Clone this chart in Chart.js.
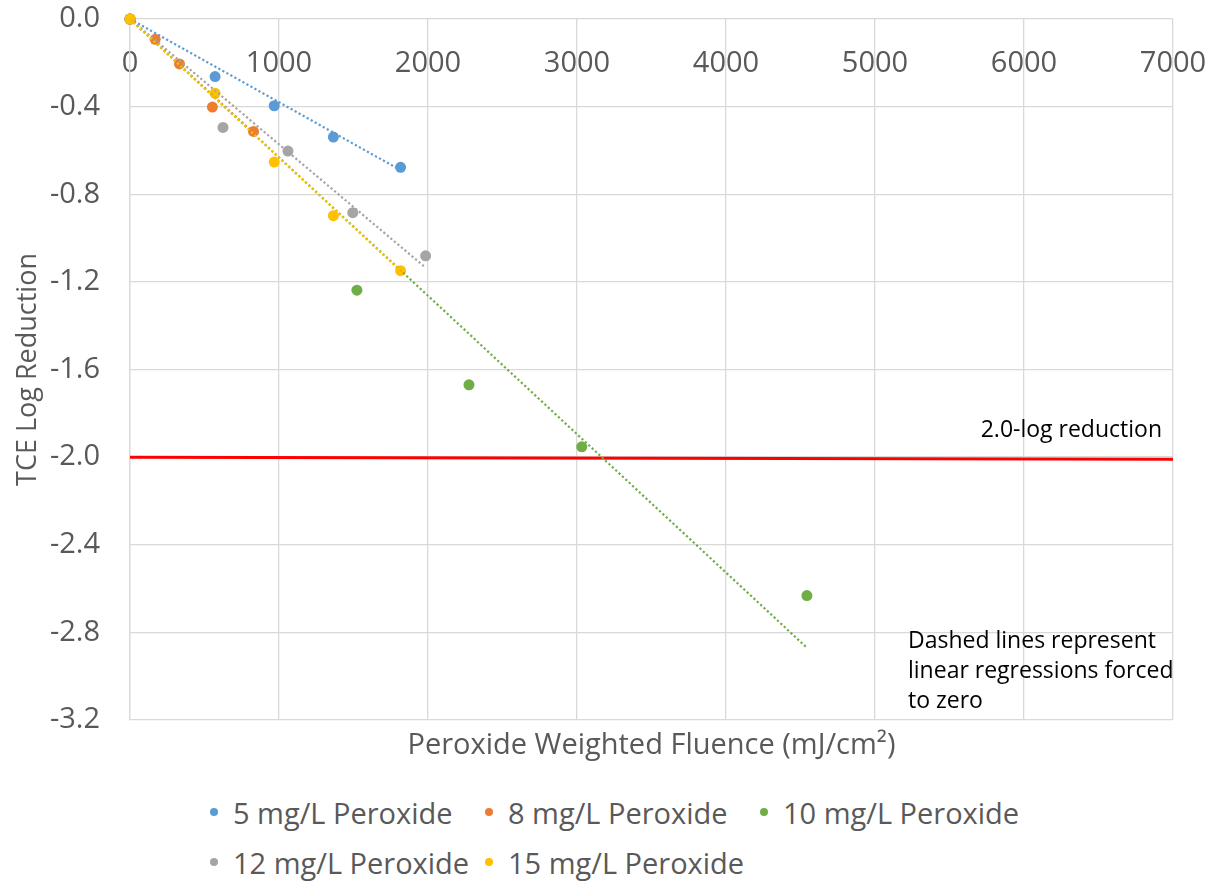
<!DOCTYPE html>
<html lang="en">
<head>
    <meta charset="UTF-8">
    <title>TCE Log Reduction vs Peroxide Weighted Fluence</title>
    <script src="https://cdn.jsdelivr.net/npm/chart.js"></script>
    <style>
        body {
            margin: 0;
            background: #fff;
            font-family: "Open Sans", Arial, sans-serif;
        }
        .chart-container {
            position: relative;
            width: 1220px;
            height: 781px;
        }
        #legend {
            position: relative;
            width: 1220px;
            height: 100px;
            padding-top: 6px;
            box-sizing: border-box;
        }
        .legend-row {
            height: 50px;
            display: flex;
            align-items: center;
            padding-left: 210px;
        }
        .legend-item {
            width: 275px;
            display: flex;
            align-items: center;
            color: #595959;
            font-size: 29px;
            white-space: nowrap;
        }
        .legend-dot {
            width: 8px;
            height: 8px;
            border-radius: 50%;
            margin-right: 15px;
            flex: none;
        }
    </style>
</head>
<body>
    <div class="chart-container">
        <canvas id="tceChart"></canvas>
    </div>
    <div id="legend"></div>

    <script>
        // values
        const seriesNames = ['5 mg/L Peroxide', '8 mg/L Peroxide', '10 mg/L Peroxide', '12 mg/L Peroxide', '15 mg/L Peroxide'];
        const seriesColors = ['#5B9BD5', '#ED7D31', '#70AD47', '#A5A5A5', '#FFC000'];

        const fluence5 = [0, 571, 968, 1365, 1816];
        const logRed5 = [0, -0.263, -0.396, -0.539, -0.677];
        const fluence8 = [0, 169, 332, 553, 829];
        const logRed8 = [0, -0.093, -0.205, -0.402, -0.513];
        const fluence10 = [0, 1523, 2275, 3032, 4543];
        const logRed10 = [0, -1.238, -1.670, -1.953, -2.632];
        const fluence12 = [0, 624, 1060, 1495, 1984];
        const logRed12 = [0, -0.495, -0.603, -0.884, -1.081];
        const fluence15 = [0, 571, 968, 1365, 1816];
        const logRed15 = [0, -0.339, -0.653, -0.898, -1.149];

        // regression lines forced through zero: [start, end]
        const trendX = [[0, 1816], [0, 829], [0, 4543], [0, 1984], [0, 1816]];
        const trendY = [[0, -0.69], [0, -0.52], [0, -2.87], [0, -1.135], [0, -1.15]];

        // 2.0-log reduction line
        const targetX = [0, 7000];
        const targetY = [-2.0, -2.01];

        const xTicks = [0, 1000, 2000, 3000, 4000, 5000, 6000, 7000];
        const yTicks = [0, -0.4, -0.8, -1.2, -1.6, -2.0, -2.4, -2.8, -3.2];

        const fluence = [fluence5, fluence8, fluence10, fluence12, fluence15];
        const logRed = [logRed5, logRed8, logRed10, logRed12, logRed15];

        function toPoints(xs, ys) {
            return xs.map((x, i) => ({ x: x, y: ys[i] }));
        }

        const datasets = [];
        seriesNames.forEach((name, i) => {
            datasets.push({
                label: name,
                data: toPoints(fluence[i], logRed[i]),
                backgroundColor: seriesColors[i],
                borderWidth: 0,
                pointRadius: 5.5,
                showLine: false,
                clip: false,
                order: 30 - i
            });
        });
        datasets.push({
            label: '2.0-log reduction',
            data: toPoints(targetX, targetY),
            borderColor: '#FF0000',
            borderWidth: 3,
            pointRadius: 0,
            showLine: true,
            order: 20
        });
        seriesNames.forEach((name, i) => {
            datasets.push({
                label: name + ' trend',
                data: toPoints(trendX[i], trendY[i]),
                borderColor: seriesColors[i],
                borderWidth: 2.2,
                borderDash: [2.2, 2.4],
                pointRadius: 0,
                showLine: true,
                order: 15 - i
            });
        });

        const noteText = {
            id: 'noteText',
            afterDatasetsDraw(chart) {
                const { ctx, scales: { x, y } } = chart;
                ctx.save();
                ctx.fillStyle = '#000';
                ctx.font = '23px "Open Sans", Arial, sans-serif';
                ctx.textBaseline = 'alphabetic';
                ctx.textAlign = 'right';
                ctx.fillText('2.0-log reduction', x.getPixelForValue(7000) - 11, y.getPixelForValue(-2.0) - 20);
                ctx.textAlign = 'left';
                const left = x.getPixelForValue(5000) + 33;
                const base = y.getPixelForValue(-3.2);
                ctx.fillText('Dashed lines represent', left, base - 72);
                ctx.fillText('linear regressions forced', left, base - 42);
                ctx.fillText('to zero', left, base - 12);
                ctx.restore();
            }
        };

        const gridColor = '#D9D9D9';
        const textColor = '#595959';

        const ctx = document.getElementById('tceChart').getContext('2d');
        const chart = new Chart(ctx, {
            type: 'scatter',
            data: { datasets: datasets },
            options: {
                responsive: true,
                maintainAspectRatio: false,
                animation: false,
                layout: { padding: { top: 19, right: 47, left: 0, bottom: 0 } },
                scales: {
                    x: {
                        type: 'linear',
                        position: { y: 0 },
                        min: 0,
                        max: 7000,
                        afterBuildTicks: (scale) => { scale.ticks = xTicks.map(v => ({ value: v })); },
                        ticks: {
                            color: textColor,
                            font: { family: '"Open Sans", Arial, sans-serif', size: 29 },
                            padding: 27,
                            maxRotation: 0,
                            callback: (v) => String(v)
                        },
                        grid: { color: gridColor, lineWidth: 1.3, drawTicks: false },
                        border: { display: false },
                        afterFit: (scale) => {
                            scale.paddingLeft = 0;
                            scale.paddingRight = 0;
                        }
                    },
                    x2: {
                        type: 'linear',
                        position: 'bottom',
                        min: 0,
                        max: 7000,
                        ticks: { display: false },
                        grid: { display: false, drawTicks: false },
                        border: { display: false },
                        title: {
                            display: true,
                            text: 'Peroxide Weighted Fluence (mJ/cm²)',
                            color: textColor,
                            font: { family: '"Open Sans", Arial, sans-serif', size: 29 },
                            padding: { top: 0, bottom: 18 }
                        },
                        afterFit: (scale) => {
                            scale.height = 61;
                            scale.paddingLeft = 0;
                            scale.paddingRight = 0;
                        }
                    },
                    y: {
                        type: 'linear',
                        position: 'left',
                        min: -3.2,
                        max: 0,
                        afterBuildTicks: (scale) => { scale.ticks = yTicks.map(v => ({ value: v })); },
                        ticks: {
                            color: textColor,
                            font: { family: '"Open Sans", Arial, sans-serif', size: 29 },
                            padding: 30,
                            callback: (v) => v.toFixed(1)
                        },
                        grid: { color: gridColor, lineWidth: 1.3, drawTicks: false },
                        border: { display: true, color: gridColor, width: 1.3 },
                        title: {
                            display: true,
                            text: 'TCE Log Reduction',
                            color: textColor,
                            font: { family: '"Open Sans", Arial, sans-serif', size: 27 },
                            padding: { top: 12, bottom: 0 }
                        },
                        afterFit: (scale) => {
                            scale.width = 130;
                            scale.paddingTop = 0;
                            scale.paddingBottom = 0;
                        }
                    }
                },
                plugins: {
                    legend: { display: false },
                    tooltip: { enabled: false }
                }
            },
            plugins: [noteText]
        });

        // legend laid out in Excel-style columns
        const legendRows = [[0, 1, 2], [3, 4]];
        const legendEl = document.getElementById('legend');
        legendRows.forEach(row => {
            const rowEl = document.createElement('div');
            rowEl.className = 'legend-row';
            row.forEach(i => {
                const item = document.createElement('div');
                item.className = 'legend-item';
                const dot = document.createElement('span');
                dot.className = 'legend-dot';
                dot.style.background = seriesColors[i];
                const label = document.createElement('span');
                label.textContent = seriesNames[i];
                item.appendChild(dot);
                item.appendChild(label);
                rowEl.appendChild(item);
            });
            legendEl.appendChild(rowEl);
        });
    </script>
</body>
</html>
